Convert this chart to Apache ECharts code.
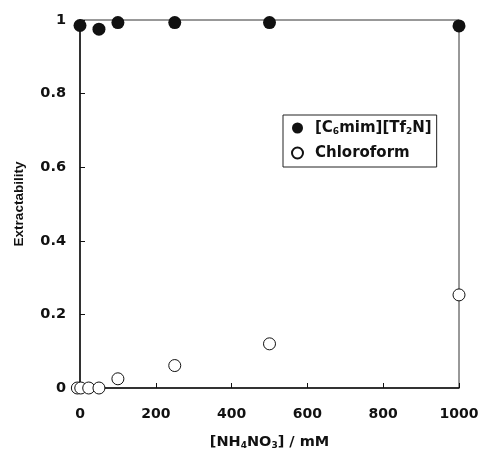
<!DOCTYPE html>
<html><head><meta charset="utf-8">
<script src="https://cdn.jsdelivr.net/npm/echarts@6/dist/echarts.min.js"></script>
<style>html,body{margin:0;padding:0;background:#fff}#c{width:481px;height:452px}</style>
</head><body><div id="c"></div>
<script>
// Data
const ilConc = [0, 50, 100, 250, 500, 1000];
const ilValues = [0.985, 0.975, 0.993, 0.993, 0.993, 0.984];
const chlConc = [-7, 2, 23, 50, 100, 250, 500, 1000];
const chlValues = [0, 0, 0, 0, 0.025, 0.061, 0.12, 0.253];
const xTicks = [0, 200, 400, 600, 800, 1000];
const yTicks = [0, 0.2, 0.4, 0.6, 0.8, 1];
const seriesNames = ['[C6mim][Tf2N]', 'Chloroform'];

const font = '"DejaVu Sans", sans-serif';
const font2 = '"Liberation Sans", Arial, sans-serif';
const chart = echarts.init(document.getElementById('c'), null, {renderer: 'canvas'});
const pair = (xs, ys) => xs.map((x, i) => [x, ys[i]]);
chart.setOption({
  animation: false,
  backgroundColor: '#fff',
  grid: {left: 80, right: 22, top: 20, bottom: 64, show: true, borderColor: '#333', borderWidth: 1,
    outerBoundsMode: 'none', containLabel: false},
  legend: {
    left: 283, top: 115, orient: 'vertical', itemGap: 9,
    padding: [5, 5, 6, 8],
    borderColor: '#222', borderWidth: 1, borderRadius: 0,
    itemWidth: 11, itemHeight: 11,
    data: seriesNames,
    formatter: n => n === seriesNames[0] ? '[C{sub|6}mim][Tf{sub|2}N]' : n,
    textStyle: {fontFamily: font, fontWeight: 'bold', fontSize: 15, color: '#111', lineHeight: 16, padding: [0, 0, 0, 7],
      rich: {sub: {fontFamily: font, fontWeight: 'bold', fontSize: 9, verticalAlign: 'bottom', padding: [7, 0, 0, 0], lineHeight: 16, color: '#111'}}}
  },
  xAxis: {
    type: 'value', min: 0, max: 1000, interval: 200,
    axisLine: {lineStyle: {color: '#111', width: 1.5}},
    axisTick: {inside: true, length: 5, lineStyle: {color: '#111'}},
    splitLine: {show: false},
    axisLabel: {fontFamily: font, fontWeight: 'bold', fontSize: 14, color: '#111', margin: 19,
      formatter: v => xTicks.includes(v) ? String(v) : ''},
    name: '[NH{sub|4}NO{sub|3}] / mM', nameLocation: 'middle', nameGap: 46,
    nameTextStyle: {fontFamily: font, fontWeight: 'bold', fontSize: 14.5, color: '#111',
      rich: {sub: {fontFamily: font, fontWeight: 'bold', fontSize: 9, padding: [7, 0, 0, 0], color: '#111'}}}
  },
  yAxis: {
    type: 'value', min: 0, max: 1, interval: 0.2,
    axisLine: {lineStyle: {color: '#111', width: 1.5}},
    axisTick: {inside: true, length: 5, lineStyle: {color: '#111'}},
    splitLine: {show: false},
    axisLabel: {fontFamily: font, fontWeight: 'bold', fontSize: 14.5, color: '#111', margin: 14,
      formatter: v => String(+v.toFixed(1))},
    name: 'Extractability', nameLocation: 'middle', nameGap: 54, nameRotate: 90,
    nameTextStyle: {fontFamily: font2, fontWeight: 'bold', fontSize: 13.5, color: '#111'}
  },
  series: [
    {name: seriesNames[0], type: 'scatter', clip: false, symbol: 'circle', symbolSize: 13,
      itemStyle: {color: '#111', opacity: 1}, data: pair(ilConc, ilValues), z: 3},
    {name: seriesNames[1], type: 'scatter', clip: false, symbol: 'circle', symbolSize: 12,
      itemStyle: {color: '#fff', borderColor: '#111', borderWidth: 1, opacity: 1}, data: pair(chlConc, chlValues), z: 2}
  ]
});
</script></body></html>
